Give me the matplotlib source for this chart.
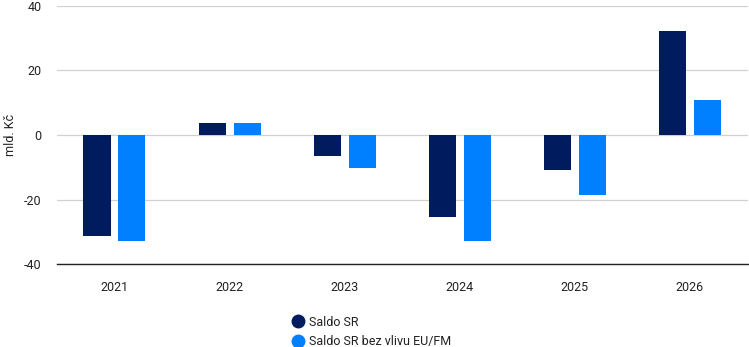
import matplotlib
matplotlib.use("Agg")
import matplotlib.pyplot as plt
import numpy as np
from matplotlib.lines import Line2D

plt.rcParams['font.family'] = ['Roboto', 'DejaVu Sans']

years = ["2021", "2022", "2023", "2024", "2025", "2026"]
saldo_sr = [-31.2, 3.7, -6.4, -25.5, -11.0, 32.2]
saldo_bez_eu = [-32.7, 3.6, -10.3, -32.7, -18.7, 10.9]

series_names = ["Saldo SR", "Saldo SR bez vlivu EU/FM"]
colors = ["#001b5e", "#0080ff"]

fig = plt.figure(figsize=(7.49, 3.47), dpi=100)
ax = fig.add_axes([0.076, 0.239, 0.922, 0.744])

x = np.arange(len(years))
width = 0.235
offset = 0.152
ax.bar(x - offset, saldo_sr, width, color=colors[0], zorder=3)
ax.bar(x + offset, saldo_bez_eu, width, color=colors[1], zorder=3)

ax.set_xlim(-0.5, len(years) - 0.5)
ax.set_ylim(-40, 40)
ax.set_yticks([-40, -20, 0, 20, 40])
ax.set_yticklabels(["-40", "-20", "0", "20", "40"])
ax.set_xticks(x)
ax.set_xticklabels(years)
ax.grid(axis='y', color='#d0d0d0', linewidth=0.9, zorder=0)
for s in ["top", "right", "left"]:
    ax.spines[s].set_visible(False)
ax.spines["bottom"].set_color("#222222")
ax.spines["bottom"].set_linewidth(1.0)
ax.tick_params(axis='both', length=0, labelsize=9, colors='#222222')
ax.tick_params(axis='x', pad=12)
ax.tick_params(axis='y', pad=11)
fig.text(0.014, 0.61, "mld. Kč", rotation=90, fontsize=9, color='#222222',
         ha='center', va='center')

handles = [Line2D([0], [0], marker='o', linestyle='none', markersize=9,
                  markerfacecolor=c, markeredgecolor=c) for c in colors]
fig.legend(handles, series_names, loc='upper left', bbox_to_anchor=(0.381, 0.105),
           frameon=False, fontsize=9, handletextpad=0.3, labelspacing=0.55,
           borderaxespad=0, handlelength=1.2, labelcolor='#222222')

fig.savefig("out.png", dpi=100)
